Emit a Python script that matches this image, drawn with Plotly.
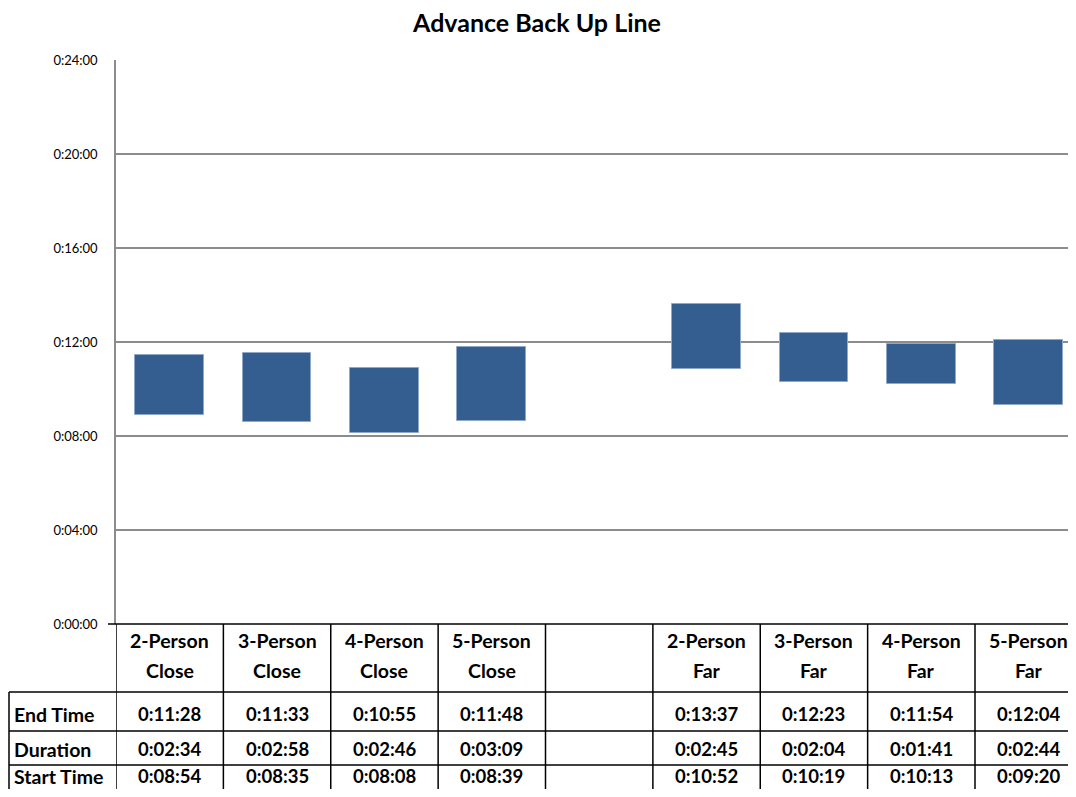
import plotly.graph_objects as go

cat_line1 = ["2-Person", "3-Person", "4-Person", "5-Person", "", "2-Person", "3-Person", "4-Person", "5-Person"]
cat_line2 = ["Close", "Close", "Close", "Close", "", "Far", "Far", "Far", "Far"]
end_time = ["0:11:28", "0:11:33", "0:10:55", "0:11:48", "", "0:13:37", "0:12:23", "0:11:54", "0:12:04"]
duration = ["0:02:34", "0:02:58", "0:02:46", "0:03:09", "", "0:02:45", "0:02:04", "0:01:41", "0:02:44"]
start_time = ["0:08:54", "0:08:35", "0:08:08", "0:08:39", "", "0:10:52", "0:10:19", "0:10:13", "0:09:20"]
row_labels = ["End Time", "Duration", "Start Time"]
y_ticks = ["0:00:00", "0:04:00", "0:08:00", "0:12:00", "0:16:00", "0:20:00", "0:24:00"]


def to_sec(s):
    if not s:
        return None
    h, m, sec = s.split(":")
    return int(h) * 3600 + int(m) * 60 + int(sec)


xs = list(range(len(cat_line1)))
base = [to_sec(s) for s in start_time]
height = [to_sec(d) for d in duration]
tick_vals = [to_sec(t) for t in y_ticks]

BLUE = "#335E8F"
FONT = "Lato"

# the page body has an 8px margin, so the figure sits at (8, 8)
W, H = 1060, 781
OFF = 8
PLOT_L, PLOT_T, PLOT_B = 116, 60, 624   # absolute window pixels
PLOT_H = PLOT_B - PLOT_T
PLOT_W = (OFF + W) - PLOT_L
COL_W = (975 - 116) / 8

fig = go.Figure(go.Bar(
    x=xs, y=height, base=base, width=0.64,
    marker=dict(color=BLUE, line=dict(color="#8FA8C8", width=1)),
    hoverinfo="skip",
))


def py(px):
    return (PLOT_B - px) / PLOT_H


def pxx(px):
    return (px - PLOT_L) / PLOT_W


row_edges = [py(624), py(692), py(731), py(765), py(800)]
line = dict(color="black", width=1.5)
shapes = []
n = len(cat_line1)
shapes.append(dict(type="line", xref="paper", yref="paper", x0=pxx(108), x1=1, y0=row_edges[0], y1=row_edges[0], line=line))
for ye in row_edges[1:4]:
    shapes.append(dict(type="line", xref="paper", yref="paper", x0=pxx(9), x1=1, y0=ye, y1=ye, line=line))
for i in range(n + 1):
    shapes.append(dict(type="line", xref="x", yref="paper", x0=i - 0.5, x1=i - 0.5,
                       y0=row_edges[0], y1=row_edges[4], line=line))
shapes.append(dict(type="line", xref="paper", yref="paper", x0=pxx(9), x1=pxx(9),
                   y0=row_edges[1], y1=row_edges[4], line=line))

label_font = dict(family=FONT, size=19.5, color="black")
value_font = dict(family=FONT, size=18.5, color="black")
annotations = []
for i in xs:
    if cat_line1[i]:
        annotations.append(dict(x=i, y=py(640), xref="x", yref="paper", text="<b>%s</b>" % cat_line1[i],
                                showarrow=False, font=label_font, yanchor="middle"))
        annotations.append(dict(x=i, y=py(670), xref="x", yref="paper", text="<b>%s</b>" % cat_line2[i],
                                showarrow=False, font=label_font, yanchor="middle"))
rows = [end_time, duration, start_time]
row_y = [714, 749, 776]
for r, vals in enumerate(rows):
    ymid = py(row_y[r])
    annotations.append(dict(x=pxx(12), y=ymid, xref="paper", yref="paper", xanchor="left",
                            text="<b>%s</b>" % row_labels[r], showarrow=False, font=label_font, yanchor="middle"))
    for i, v in enumerate(vals):
        if v:
            annotations.append(dict(x=i, y=ymid, xref="x", yref="paper", text="<b>%s</b>" % v,
                                    showarrow=False, font=value_font, yanchor="middle"))

fig.update_layout(
    title=dict(text="<b>Advance Back Up Line</b>", x=(537 - OFF) / W, xref="container", xanchor="center",
               y=1 - (23 - OFF) / H, yanchor="middle", font=dict(family=FONT, size=25, color="black")),
    width=W, height=H,
    margin=dict(l=PLOT_L - OFF, r=0, t=PLOT_T - OFF, b=H - (PLOT_B - OFF)),
    plot_bgcolor="white", paper_bgcolor="white",
    showlegend=False,
    bargap=0,
    shapes=shapes,
    annotations=annotations,
    xaxis=dict(range=[-0.5, -0.5 + PLOT_W / COL_W], showticklabels=False, showgrid=False, zeroline=False,
               showline=False, fixedrange=True),
    yaxis=dict(range=[0, 1440], tickvals=tick_vals, ticktext=y_ticks, showgrid=True,
               gridcolor="#8c8c8c", gridwidth=1.5, zeroline=False, showline=True,
               linecolor="#8c8c8c", linewidth=1.5, ticks="", ticklabelstandoff=14,
               tickfont=dict(family=FONT, size=13, color="black"), fixedrange=True),
)

fig.write_html("out.html")
